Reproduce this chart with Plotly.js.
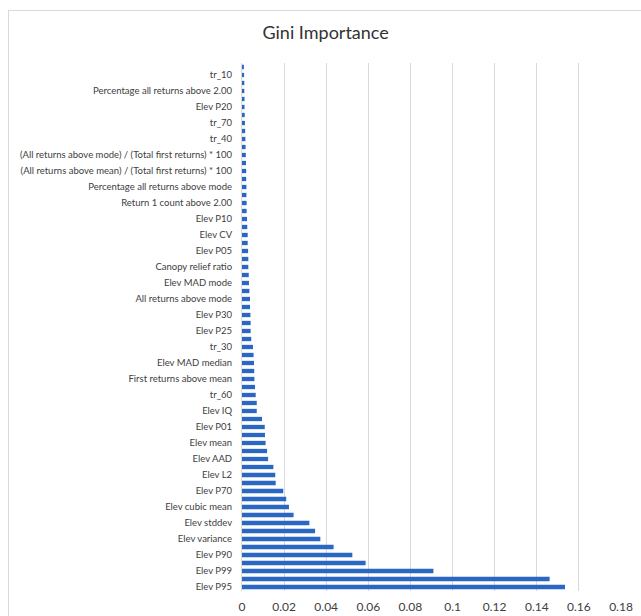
<!DOCTYPE html>
<html>
<head>
<meta charset="utf-8">
<script src="https://cdn.plot.ly/plotly-3.0.1.min.js"></script>
<style>
  html, body { margin: 0; padding: 0; background: #ffffff; }
  #frame {
    position: absolute; left: 8px; top: 10px;
    width: 700px; height: 700px;
    border: 1px solid #d9d9d9; box-sizing: border-box;
  }
  #chart { position: absolute; left: 0; top: 0; width: 641px; height: 616px; }
</style>
</head>
<body>
<div id="frame"></div>
<div id="chart"></div>
<script>
// Feature names shown on the axis, top to bottom (every other bar is labelled)
const featureLabels = [
  "tr_10",
  "Percentage all returns above 2.00",
  "Elev P20",
  "tr_70",
  "tr_40",
  "(All returns above mode) / (Total first returns) * 100",
  "(All returns above mean) / (Total first returns) * 100",
  "Percentage all returns above mode",
  "Return 1 count above 2.00",
  "Elev P10",
  "Elev CV",
  "Elev P05",
  "Canopy relief ratio",
  "Elev MAD mode",
  "All returns above mode",
  "Elev P30",
  "Elev P25",
  "tr_30",
  "Elev MAD median",
  "First returns above mean",
  "tr_60",
  "Elev IQ",
  "Elev P01",
  "Elev mean",
  "Elev AAD",
  "Elev L2",
  "Elev P70",
  "Elev cubic mean",
  "Elev stddev",
  "Elev variance",
  "Elev P90",
  "Elev P99",
  "Elev P95"
];

// Gini importance of every bar, top to bottom
const importance = [
  0.0009, 0.0010, 0.0011, 0.0011, 0.0012, 0.0012, 0.0013, 0.0014,
  0.0015, 0.0016, 0.0017, 0.0018, 0.0019, 0.0020, 0.0020, 0.0021,
  0.0021, 0.0022, 0.0022, 0.0024, 0.0025, 0.0027, 0.0027, 0.0029,
  0.0030, 0.0030, 0.0032, 0.0033, 0.0035, 0.0038, 0.0038, 0.0040,
  0.0041, 0.0041, 0.0044, 0.0052, 0.0055, 0.0057, 0.0058, 0.0059,
  0.0062, 0.0065, 0.0070, 0.0070, 0.0095, 0.0108, 0.0109, 0.0112,
  0.0119, 0.0124, 0.0149, 0.0158, 0.0160, 0.0196, 0.0210, 0.0223,
  0.0245, 0.0320, 0.0347, 0.0372, 0.0435, 0.0524, 0.0587, 0.0909,
  0.1461, 0.1534
];

// Value axis ticks
const xTicks = [0, 0.02, 0.04, 0.06, 0.08, 0.1, 0.12, 0.14, 0.16, 0.18];

const positions = importance.map((_, i) => i);
// labelled bars are the 2nd, 4th, ... from the top
const labelPositions = featureLabels.map((_, k) => 2 * k + 1);

const trace = {
  type: "bar",
  orientation: "h",
  x: importance,
  y: positions,
  marker: { color: "#2a66c4" },
  hoverinfo: "x"
};

const layout = {
  width: 641,
  height: 616,
  margin: { l: 242, r: 20, t: 63, b: 25, pad: 0 },
  paper_bgcolor: "rgba(0,0,0,0)",
  plot_bgcolor: "rgba(0,0,0,0)",
  bargap: 0.46,
  showlegend: false,
  font: { family: "Lato, 'Open Sans', sans-serif", color: "#404040" },
  title: {
    text: "Gini Importance",
    font: { family: "Lato, sans-serif", size: 18, color: "#333333" },
    x: 0.508, xanchor: "center",
    y: 1 - 33 / 616, yanchor: "middle"
  },
  xaxis: {
    range: [0, 0.18],
    tickmode: "array",
    tickvals: xTicks,
    ticktext: xTicks.map(String),
    showgrid: true,
    gridcolor: "#d9d9d9",
    gridwidth: 1,
    zeroline: false,
    showline: false,
    ticks: "",
    ticklabelstandoff: 7,
    tickfont: { size: 12, color: "#404040" },
    fixedrange: true
  },
  yaxis: {
    range: [importance.length - 0.5, -0.5],
    tickmode: "array",
    tickvals: labelPositions,
    ticktext: featureLabels,
    showgrid: false,
    zeroline: false,
    showline: true,
    linecolor: "#d9d9d9",
    linewidth: 1,
    ticks: "",
    ticklabelstandoff: 7,
    tickfont: { size: 9.5, color: "#404040" },
    fixedrange: true
  }
};

Plotly.newPlot("chart", [trace], layout, { displayModeBar: false, staticPlot: true });
</script>
</body>
</html>
